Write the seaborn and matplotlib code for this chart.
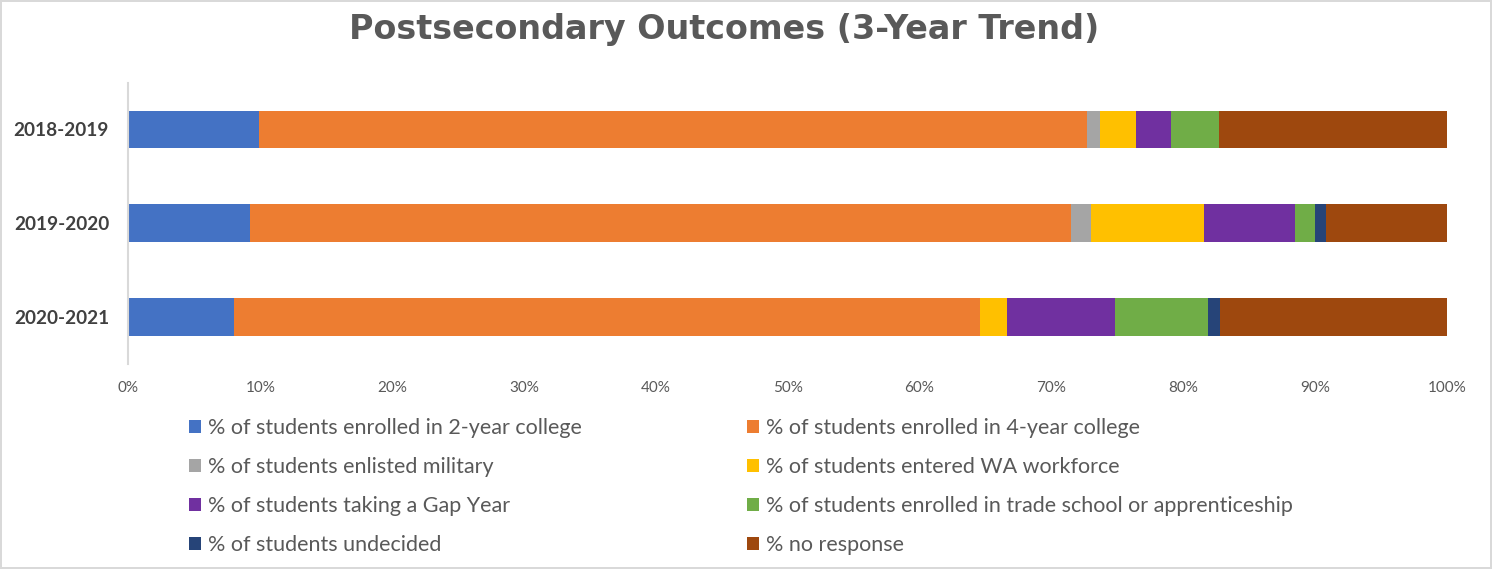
import matplotlib
matplotlib.use("Agg")
import matplotlib.pyplot as plt
from matplotlib.patches import Patch
from matplotlib.ticker import PercentFormatter
import numpy as np
import pandas as pd
import seaborn as sns

years = ["2018-2019", "2019-2020", "2020-2021"]

two_year = [9.9, 9.2, 8.0]
four_year = [62.8, 62.3, 56.6]
military = [1.0, 1.5, 0.0]
workforce = [2.7, 8.6, 2.0]
gap_year = [2.7, 6.9, 8.2]
trade = [3.6, 1.5, 7.1]
undecided = [0.0, 0.8, 0.9]
no_response = [17.3, 9.2, 17.2]

series_names = [
    "% of students enrolled in 2-year college",
    "% of students enrolled in 4-year college",
    "% of students enlisted military",
    "% of students entered WA workforce",
    "% of students taking a Gap Year",
    "% of students enrolled in trade school or apprenticeship",
    "% of students undecided",
    "% no response",
]
series_values = [two_year, four_year, military, workforce,
                 gap_year, trade, undecided, no_response]
colors = ["#4472C4", "#ED7D31", "#A5A5A5", "#FFC000",
          "#7030A0", "#70AD47", "#264478", "#9E480E"]

sns.set_theme(style="white")
plt.rcParams["font.family"] = ["Lato", "DejaVu Sans"]

fig = plt.figure(figsize=(14.92, 5.69), dpi=100)
fig.patch.set_facecolor("white")
fig.patch.set_edgecolor("#D9D9D9")
fig.patch.set_linewidth(1.5)
ax = fig.add_axes([0.0861, 0.3603, 0.8837, 0.4947])

# stacked horizontal bars: draw cumulative totals, widest first
cum = np.cumsum(np.array(series_values), axis=0)
for i in range(len(series_names) - 1, -1, -1):
    df = pd.DataFrame({"year": years, "value": cum[i]})
    sns.barplot(data=df, x="value", y="year", orient="h", color=colors[i],
                width=0.4, saturation=1, ax=ax, edgecolor="none")

ax.set_xlim(0, 100)
ax.set_ylim(2.5, -0.5)
ax.set_xticks(np.arange(0, 101, 10))
ax.xaxis.set_major_formatter(PercentFormatter(decimals=0))
ax.set_xlabel("")
ax.set_ylabel("")
ax.tick_params(axis="x", labelsize=11, colors="#595959", length=0, pad=12)
ax.tick_params(axis="y", labelsize=13.7, colors="#404040", length=0, pad=14)
for lbl in ax.get_yticklabels():
    lbl.set_fontweight("bold")
for s in ["top", "right", "bottom"]:
    ax.spines[s].set_visible(False)
ax.spines["left"].set_color("#D9D9D9")
ax.spines["left"].set_linewidth(1.5)

fig.text(0.4853, 0.949, "Postsecondary Outcomes (3-Year Trend)", ha="center",
         va="center", fontsize=24, fontweight="bold", color="#595959",
         family="DejaVu Sans")

order = [0, 2, 4, 6, 1, 3, 5, 7]
handles = [Patch(facecolor=colors[i], edgecolor="none", label=series_names[i])
           for i in order]
leg = fig.legend(handles=handles, ncol=2, loc="upper left",
                 bbox_to_anchor=(0.1195, 0.284), frameon=False, fontsize=15.5,
                 handlelength=0.55, handleheight=0.55, handletextpad=0.35,
                 columnspacing=7.65, labelspacing=0.88, borderpad=0)
for t in leg.get_texts():
    t.set_color("#595959")

fig.savefig("out.png", dpi=100, facecolor=fig.get_facecolor(),
            edgecolor=fig.get_edgecolor())
